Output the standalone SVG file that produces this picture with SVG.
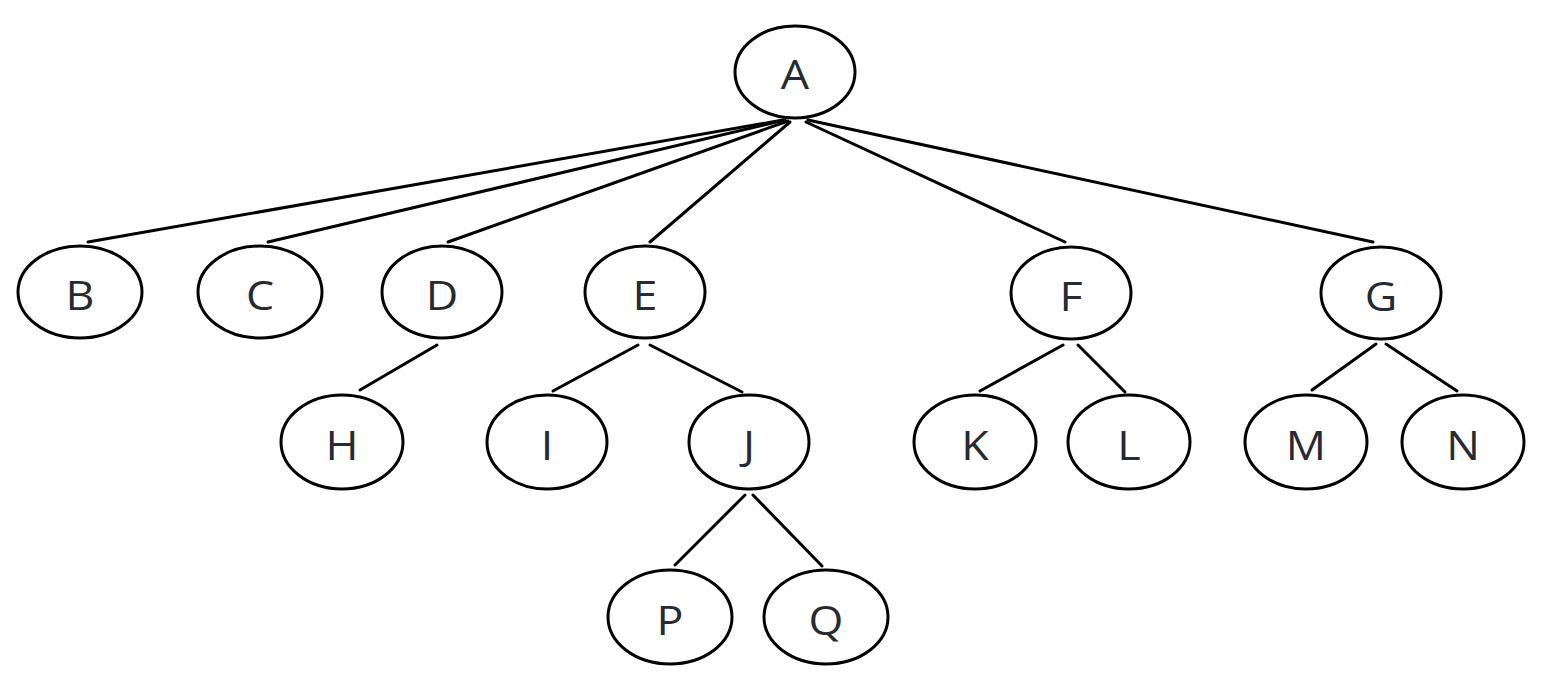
<svg xmlns="http://www.w3.org/2000/svg" width="1560" height="681" viewBox="0 0 1560 681">
<style>
.n ellipse{fill:#fff;stroke:#000;stroke-width:3}
.n text{font-family:"Open Sans","Noto Sans",sans-serif;font-size:40px;fill:#262a33;text-anchor:middle}
#edges line{stroke:#000;stroke-width:3;stroke-linecap:round}
</style>
<rect width="1560" height="681" fill="#fff"/>
<g id="edges">
<line x1="783" y1="120" x2="88" y2="242"/>
<line x1="785" y1="120" x2="268" y2="242"/>
<line x1="788" y1="121" x2="448" y2="242"/>
<line x1="790" y1="122" x2="650" y2="242"/>
<line x1="806" y1="122" x2="1065" y2="242"/>
<line x1="808" y1="120" x2="1373" y2="242"/>
<line x1="437" y1="345" x2="360" y2="390"/>
<line x1="638" y1="345" x2="553" y2="391"/>
<line x1="650" y1="345" x2="742" y2="392"/>
<line x1="1063" y1="345" x2="980" y2="391"/>
<line x1="1078" y1="345" x2="1125" y2="392"/>
<line x1="1376" y1="344" x2="1312" y2="390"/>
<line x1="1386" y1="344" x2="1457" y2="391"/>
<line x1="745" y1="495" x2="675" y2="565"/>
<line x1="753" y1="495" x2="822" y2="566"/>
</g>
<g id="A" class="n"><ellipse cx="795" cy="72" rx="60" ry="46"/><text transform="translate(795,89) scale(1.12,1)">A</text></g>
<g id="B" class="n"><ellipse cx="80" cy="292" rx="62" ry="46"/><text transform="translate(80,310) scale(1.12,1)">B</text></g>
<g id="C" class="n"><ellipse cx="260" cy="292" rx="62" ry="46"/><text transform="translate(260,310) scale(1.12,1)">C</text></g>
<g id="D" class="n"><ellipse cx="442" cy="292" rx="60" ry="46"/><text transform="translate(442,310) scale(1.12,1)">D</text></g>
<g id="E" class="n"><ellipse cx="645" cy="292" rx="60" ry="46"/><text transform="translate(645,310) scale(1.12,1)">E</text></g>
<g id="F" class="n"><ellipse cx="1071" cy="293" rx="60" ry="46"/><text transform="translate(1071,311) scale(1.12,1)">F</text></g>
<g id="G" class="n"><ellipse cx="1381" cy="293" rx="60" ry="46"/><text transform="translate(1381,311) scale(1.12,1)">G</text></g>
<g id="H" class="n"><ellipse cx="342" cy="442" rx="61" ry="47"/><text transform="translate(342,460) scale(1.12,1)">H</text></g>
<g id="I" class="n"><ellipse cx="547" cy="442" rx="60" ry="47"/><text transform="translate(547,460) scale(1.12,1)">I</text></g>
<g id="J" class="n"><ellipse cx="749" cy="442" rx="60" ry="47"/><text transform="translate(749,460) scale(1.12,1)">J</text></g>
<g id="K" class="n"><ellipse cx="975" cy="442" rx="61" ry="47"/><text transform="translate(975,460) scale(1.12,1)">K</text></g>
<g id="L" class="n"><ellipse cx="1129" cy="442" rx="61" ry="47"/><text transform="translate(1129,460) scale(1.12,1)">L</text></g>
<g id="M" class="n"><ellipse cx="1306" cy="442" rx="61" ry="47"/><text transform="translate(1306,460) scale(1.12,1)">M</text></g>
<g id="N" class="n"><ellipse cx="1463" cy="442" rx="61" ry="47"/><text transform="translate(1463,460) scale(1.12,1)">N</text></g>
<g id="P" class="n"><ellipse cx="670" cy="617" rx="62" ry="47"/><text transform="translate(670,635) scale(1.12,1)">P</text></g>
<g id="Q" class="n"><ellipse cx="826" cy="617" rx="62" ry="47"/><text transform="translate(826,635) scale(1.12,1)">Q</text></g>
</svg>
